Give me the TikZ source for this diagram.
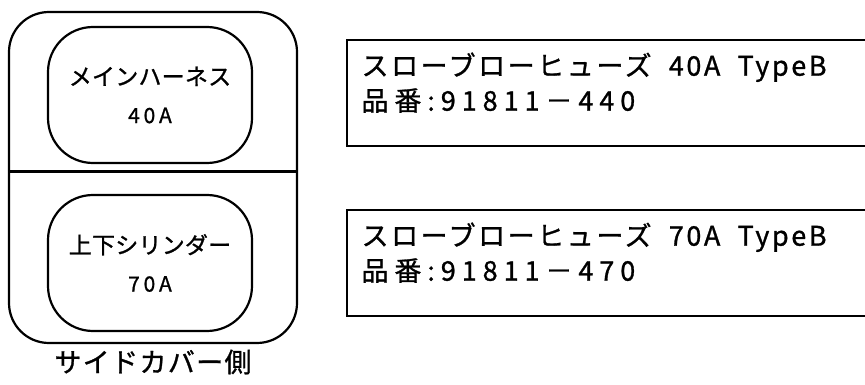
\documentclass[tikz,border=0pt]{standalone}
\usepackage{fontspec}
\newfontfamily\jpsmall[LetterSpace=1, FakeBold=1]{Noto Sans CJK JP}
\newfontfamily\jpnum[LetterSpace=18, FakeBold=1]{Noto Sans CJK JP}
\newfontfamily\jpcap[LetterSpace=5, FakeBold=1]{Noto Sans CJK JP}
\newfontfamily\jpwide[LetterSpace=9.5, FakeBold=1]{Noto Sans CJK JP}
\newfontfamily\jppart[LetterSpace=22, FakeBold=1]{Noto Sans CJK JP}
\usetikzlibrary{positioning}
\tikzset{
  boxln/.style={line width=2.2pt},
  coverbox/.style={draw, boxln, rounded corners=40pt, minimum width=288pt, minimum height=331pt},
  fusebox/.style={draw, boxln, rounded corners=45pt, minimum width=204pt, minimum height=136pt,
    align=center, font=\jpsmall\fontsize{23}{38}\selectfont},
  infobox/.style={draw, boxln, minimum width=540pt, minimum height=106pt, anchor=north west},
  infotxt/.style={align=left, anchor=north west, font=\jpwide\fontsize{27}{35}\selectfont},
  captxt/.style={font=\jpcap\fontsize{27}{30}\selectfont},
}
\newcommand{\ampnum}[1]{{\jpnum\fontsize{21}{38}\selectfont #1}}
\newcommand{\partno}[1]{{\jppart #1}}

\begin{document}
\begin{tikzpicture}[x=1pt, y=-1pt]
    \useasboundingbox (0,0) rectangle (865,385);
    \clip (0,0) rectangle (865,385);
    % side cover block
    \node[coverbox] (cover) at (153,177.5) {};
    \draw[boxln] ([yshift=6pt]cover.west) -- ([yshift=6pt]cover.east);
    \node[fusebox] (mainfuse) at (150,95) {メインハーネス\\\ampnum{40A}};
    \node[fusebox] (cylfuse) at (150,263) {上下シリンダー\\\ampnum{70A}};
    \node[captxt] (side) at (153,362) {サイドカバー側};
    % fuse part numbers
    \node[infobox] (info40) at (346,39) {};
    \node[infotxt] (info40txt) at ([xshift=12pt, yshift=-10pt]info40.north west)
      {スローブローヒューズ\ \ 40A\ \ TypeB\\\partno{品番:91811－440}};
    \node[infobox] (info70) at (346,209) {};
    \node[infotxt] (info70txt) at ([xshift=12pt, yshift=-10pt]info70.north west)
      {スローブローヒューズ\ \ 70A\ \ TypeB\\\partno{品番:91811－470}};
\end{tikzpicture}
\end{document}
